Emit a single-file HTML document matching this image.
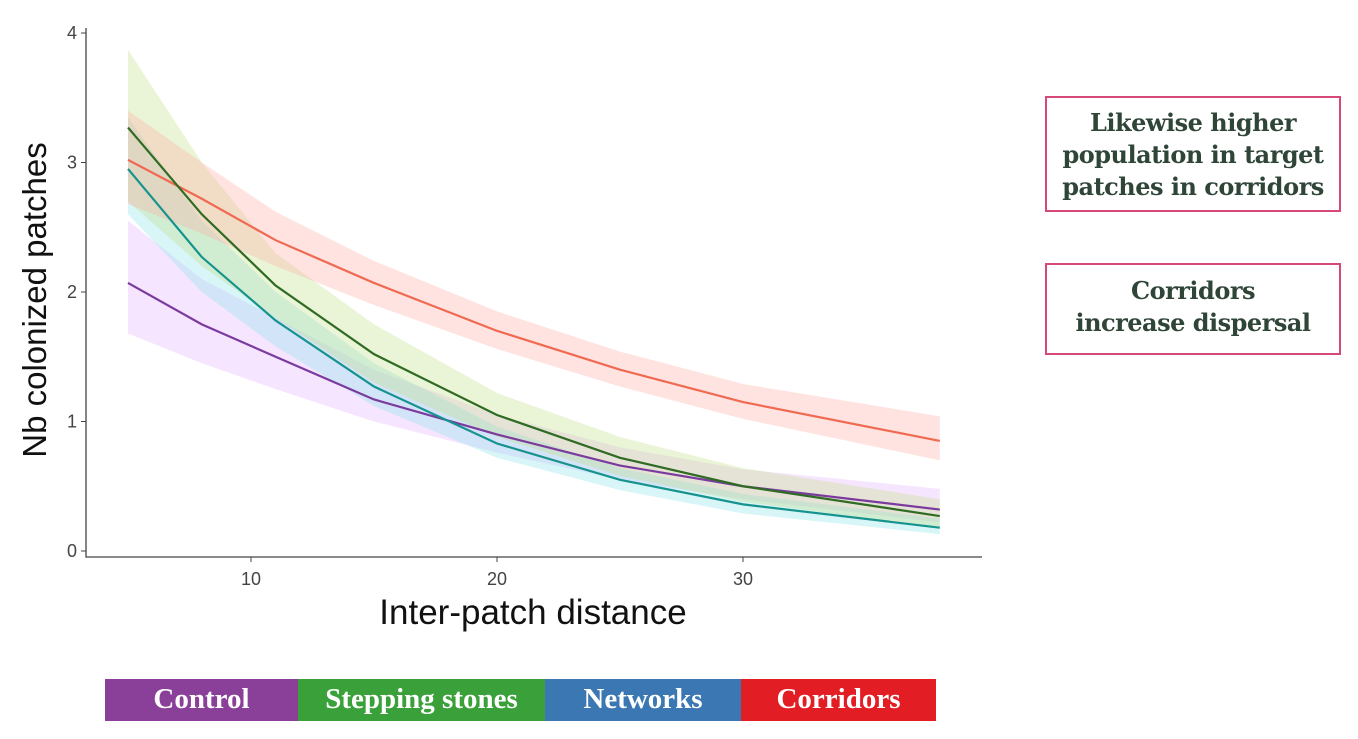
<!DOCTYPE html>
<html><head><meta charset="utf-8"><style>
body{margin:0;background:#fff;width:1358px;height:739px;overflow:hidden;position:relative;font-family:"Liberation Sans",sans-serif}
.box{position:absolute;border:2px solid #d6477a;background:#fff;color:#2f4538;font-family:"DejaVu Serif","Liberation Serif",serif;font-weight:bold;font-size:24px;text-align:center;line-height:32px;letter-spacing:-0.5px}
.leg{position:absolute;top:679px;height:42px;color:#fff;font-family:"Liberation Serif",serif;font-weight:bold;font-size:29px;text-align:center;line-height:40px}
</style></head><body>
<svg id="chart" width="1000" height="650" style="position:absolute;left:0;top:0"></svg>
<div class="box" style="left:1045px;top:96px;width:296px;height:116px;padding-top:9px;box-sizing:border-box">Likewise higher<br>population in target<br>patches in corridors</div>
<div class="box" style="left:1045px;top:263px;width:296px;height:92px;padding-top:10px;box-sizing:border-box">Corridors<br>increase dispersal</div>
<div class="leg" style="left:105px;width:193px;background:#8a3f98">Control</div>
<div class="leg" style="left:298px;width:247px;background:#3aa13a">Stepping stones</div>
<div class="leg" style="left:545px;width:196px;background:#3a77b3">Networks</div>
<div class="leg" style="left:741px;width:195px;background:#e21d23">Corridors</div>
<script>
const xs=[5,8,11,15,20,25,30,38];
const corrMean=[3.02,2.72,2.40,2.07,1.70,1.40,1.15,0.85];
const corrLo=[2.68,2.45,2.20,1.90,1.56,1.27,1.02,0.70];
const corrHi=[3.40,3.00,2.62,2.24,1.85,1.54,1.29,1.04];
const stepMean=[3.27,2.60,2.05,1.52,1.05,0.72,0.50,0.27];
const stepLo=[2.70,2.20,1.80,1.30,0.88,0.58,0.38,0.18];
const stepHi=[3.87,3.00,2.30,1.75,1.22,0.88,0.64,0.40];
const netMean=[2.95,2.27,1.78,1.27,0.83,0.55,0.36,0.18];
const netLo=[2.60,2.00,1.58,1.12,0.72,0.47,0.29,0.13];
const netHi=[3.35,2.55,2.00,1.45,0.96,0.64,0.44,0.25];
const ctlMean=[2.07,1.75,1.50,1.17,0.90,0.66,0.50,0.32];
const ctlLo=[1.68,1.45,1.25,1.00,0.76,0.55,0.40,0.22];
const ctlHi=[2.55,2.10,1.80,1.40,1.05,0.80,0.63,0.48];
const xTicks=[10,20,30];
const yTicks=[0,1,2,3,4];
const X=v=>251+(v-10)*24.6, Y=v=>551-v*129.5;
const svg=document.getElementById('chart');const NS='http://www.w3.org/2000/svg';
function mk(t,a,p){const e=document.createElementNS(NS,t);for(const k in a)e.setAttribute(k,a[k]);(p||svg).appendChild(e);return e;}
function band(lo,hi,fill,name){let d='M'+xs.map((x,i)=>X(x)+','+Y(hi[i])).join('L')+'L'+xs.slice().reverse().map((x,j)=>X(x)+','+Y(lo[xs.length-1-j])).join('L')+'Z';
const e=mk('path',{d,fill,'fill-opacity':0.35});

}
function line(m,c,name){const e=mk('path',{d:'M'+xs.map((x,i)=>X(x)+','+Y(m[i])).join('L'),fill:'none',stroke:c,'stroke-width':2.2});

}
band(ctlLo,ctlHi,'#e4b5ff','control-band');band(netLo,netHi,'#8fe3ea','networks-band');band(stepLo,stepHi,'#c4e08a','stepping-band');band(corrLo,corrHi,'#ffb0a8','corridors-band');
line(corrMean,'#f06a52','corridors-line');line(ctlMean,'#7b3b9e','control-line');line(netMean,'#17938e','networks-line');line(stepMean,'#2f6b23','stepping-line');
const ax=mk('path',{d:'M86,28V557H982',fill:'none',stroke:'#444','stroke-width':1.3});


yTicks.forEach(v=>{mk('line',{x1:81,x2:86,y1:Y(v),y2:Y(v),stroke:'#444'});const t=mk('text',{x:77,y:Y(v)+6,'text-anchor':'end','font-size':18,fill:'#444','font-family':'Liberation Sans'});t.textContent=v;

});
xTicks.forEach(v=>{mk('line',{x1:X(v),x2:X(v),y1:557,y2:562,stroke:'#444'});const t=mk('text',{x:X(v),y:585,'text-anchor':'middle','font-size':18,fill:'#444','font-family':'Liberation Sans'});t.textContent=v;

});
const xt=mk('text',{x:533,y:624,'text-anchor':'middle','font-size':35,fill:'#111','font-family':'Liberation Sans'});xt.textContent='Inter-patch distance';


const yt=mk('text',{x:0,y:0,'text-anchor':'middle','font-size':33,fill:'#111','font-family':'Liberation Sans',transform:'translate(46,300) rotate(-90)'});yt.textContent='Nb colonized patches';


</script>
</body></html>
